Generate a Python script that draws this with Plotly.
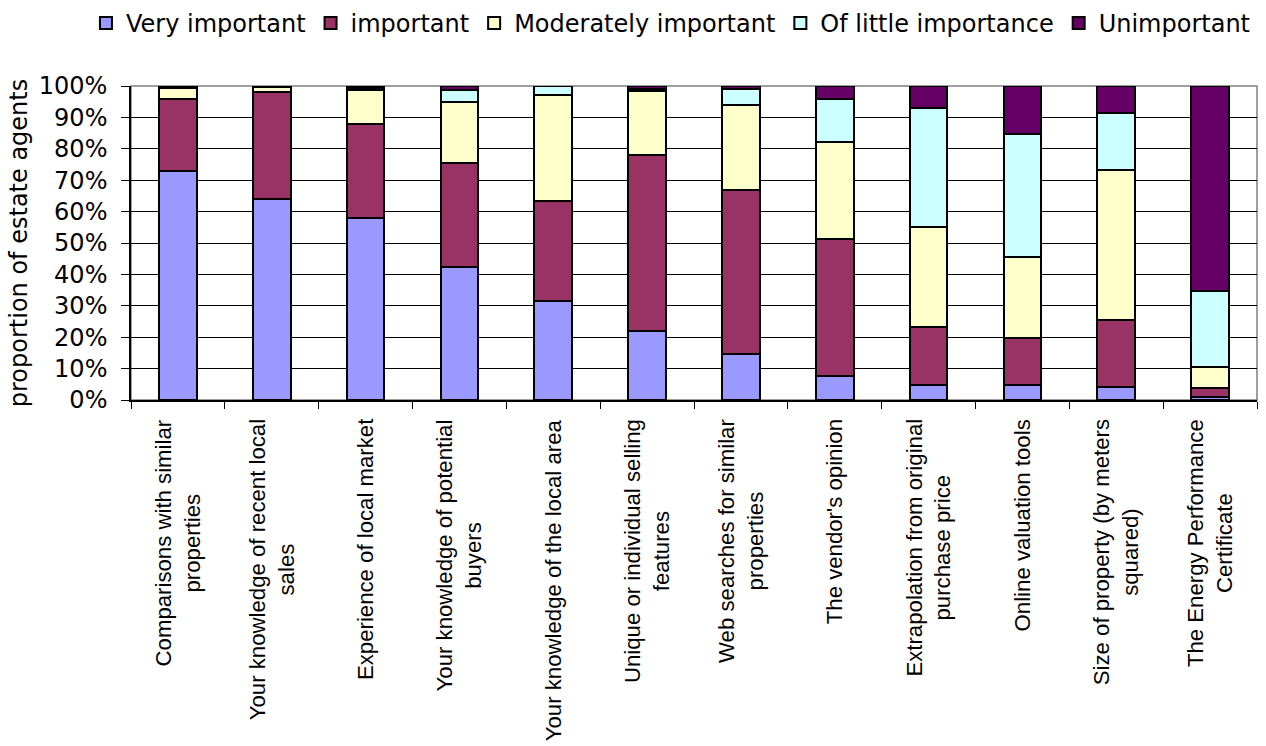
import plotly.graph_objects as go

categories = [
    "Comparisons with similar<br>properties",
    "Your knowledge of recent local<br>sales",
    "Experience of local market",
    "Your knowledge of potential<br>buyers",
    "Your knowledge of the local area",
    "Unique or individual selling<br>features",
    "Web searches for similar<br>properties",
    "The vendor's opinion",
    "Extrapolation from original<br>purchase price",
    "Online valuation tools",
    "Size of property (by meters<br>squared)",
    "The Energy Performance<br>Certificate",
]

very_important = [73, 64, 58, 42.5, 31.5, 22, 14.6, 7.6, 4.7, 4.7, 4.2, 0.9]
important = [23, 34, 30, 33, 31.8, 56, 52.3, 43.7, 18.4, 14.9, 21.4, 2.8]
moderately_important = [3.5, 1.6, 10.6, 19.4, 33.7, 20.3, 27.1, 31, 32, 26.1, 47.5, 6.9]
little_importance = [0, 0, 0.9, 3.8, 2.9, 0.7, 5.1, 13.6, 37.8, 39.1, 18.4, 24.2]
unimportant = [0.5, 0.4, 0.5, 1.3, 0.1, 1, 0.9, 4.1, 7.1, 15.2, 8.5, 65.2]

series_names = ["Very important", "important", "Moderately important",
                "Of little importance", "Unimportant"]
series_values = [very_important, important, moderately_important,
                 little_importance, unimportant]
series_colors = ["#9999FF", "#993366", "#FFFFCC", "#CCFFFF", "#660066"]

y_tick_values = [0, 10, 20, 30, 40, 50, 60, 70, 80, 90, 100]
y_tick_labels = ["0%", "10%", "20%", "30%", "40%", "50%", "60%", "70%", "80%", "90%", "100%"]

fig = go.Figure()
for name, vals, col in zip(series_names, series_values, series_colors):
    fig.add_trace(go.Bar(
        x=categories, y=vals, name=name,
        marker=dict(color=col, line=dict(color="#000000", width=2)),
    ))

for cat in categories:
    fig.add_annotation(
        x=cat, xref="x", y=0, yref="paper",
        text=cat, textangle=-90, showarrow=False,
        xanchor="center", yanchor="top", align="center",
        yshift=-17,
        font=dict(family="Liberation Sans, Arial", size=22.2, color="#000000"),
    )

# plot-area border (grey, as in the source chart)
fig.add_shape(type="rect", xref="paper", yref="paper", x0=0, y0=0, x1=1, y1=1,
              line=dict(color="#808080", width=1.5), layer="below")

fig.update_layout(
    barmode="stack",
    bargap=0.6,
    width=1266, height=746,
    margin=dict(l=131, r=9, t=86, b=346, autoexpand=False),
    plot_bgcolor="#FFFFFF",
    paper_bgcolor="#FFFFFF",
    showlegend=True,
    legend=dict(
        orientation="h", traceorder="normal",
        x=-0.040, xanchor="left", xref="paper",
        y=1.2707, yanchor="top", yref="paper",
        font=dict(family="DejaVu Sans, Verdana", size=24, color="#000000"),
        itemwidth=30, tracegroupgap=0,
        bgcolor="rgba(0,0,0,0)",
    ),
    font=dict(family="DejaVu Sans, Verdana", color="#000000"),
)

fig.update_xaxes(
    showticklabels=False,
    tickson="boundaries", ticks="outside", ticklen=7, tickwidth=1.3, tickcolor="#000000",
    showline=True, linecolor="#000000", linewidth=1.5,
    showgrid=False,
)

fig.update_yaxes(
    range=[0, 100],
    tickmode="array", tickvals=y_tick_values, ticktext=y_tick_labels,
    ticks="outside", ticklen=8, tickwidth=1.3, tickcolor="#000000",
    ticklabelstandoff=9,
    tickfont=dict(family="DejaVu Sans, Verdana", size=24, color="#000000"),
    showline=True, linecolor="#000000", linewidth=1.5,
    showgrid=True, gridcolor="#000000", gridwidth=1,
    zeroline=False,
    title=dict(text="proportion of estate agents",
               font=dict(family="DejaVu Sans, Verdana", size=24, color="#000000"),
               standoff=4),
)

fig.write_html("out.html")
